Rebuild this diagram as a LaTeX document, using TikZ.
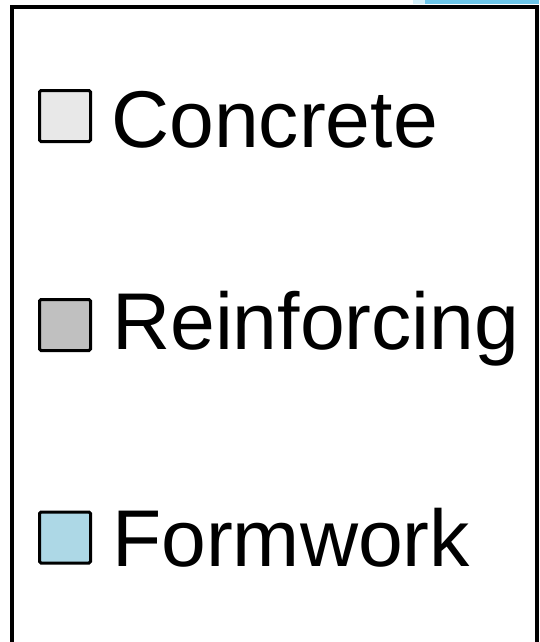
\documentclass[tikz,border=0pt]{standalone}
\usepackage{fontspec}
\setmainfont{Liberation Sans}
\definecolor{concretegray}{HTML}{E8E8E8}
\definecolor{rebargray}{HTML}{C0C0C0}
\definecolor{formblue}{HTML}{ADD8E6}
\definecolor{stripblue}{HTML}{6CC6EA}
\definecolor{stripfade}{HTML}{D3EFFA}
\begin{document}
\begin{tikzpicture}[x=1pt,y=-1pt,
  swatch/.style={draw=black, line width=3pt, rounded corners=1.5pt,
    minimum size=51pt, inner sep=0pt},
  legendtext/.style={anchor=base west, inner sep=0pt,
    font=\fontsize{80.5}{92}\selectfont},
  frameline/.style={line width=4pt}]
  \useasboundingbox (0,0) rectangle (539,642);
  % strip of the neighbouring panel above the frame
  \fill[stripfade] (413,0) rectangle (425,4);
  \fill[stripblue] (425,0) rectangle (539,4);
  % legend frame, open at the bottom
  \draw[frameline] (12,642) -- (12,7) -- (537,7) -- (537,642);
  % swatches
  \node[swatch, fill=concretegray] (sw1) at (65,116) {};
  \node[swatch, fill=rebargray] (sw2) at (65,325) {};
  \node[swatch, fill=formblue] (sw3) at (65,537.5) {};
  % labels
  \node[legendtext] (lb1) at (111,147) {Concrete};
  \node[legendtext] (lb2) at (112,349) {Reinforcing};
  \node[legendtext] (lb3) at (112,566) {Formwork};
\end{tikzpicture}
\end{document}
